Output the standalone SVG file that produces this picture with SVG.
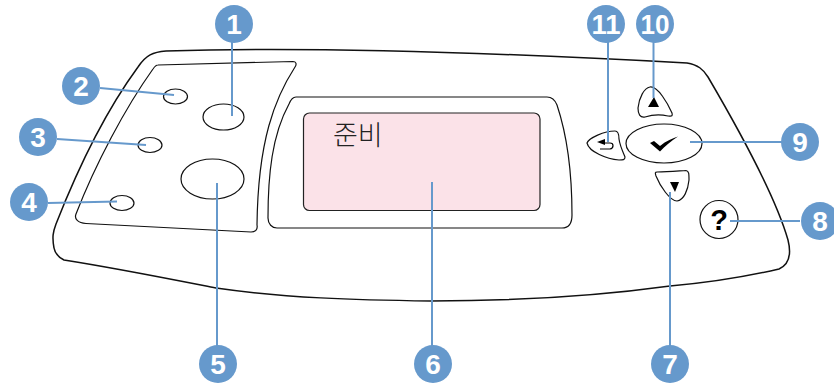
<svg xmlns="http://www.w3.org/2000/svg" width="834" height="383" viewBox="0 0 834 383">
<style>
.o{fill:none;stroke:#111;stroke-width:1.2}
.b{fill:#fff;stroke:#111;stroke-width:1.2}
.l{fill:none;stroke:#6699cc;stroke-width:2}
.c{fill:#6699cc}
.t{fill:#fff;font:bold 28px "Liberation Sans",Arial,sans-serif;text-anchor:middle}
</style>
<rect width="834" height="383" fill="#fff"/>
<g id="panel">
<path class="o" style="stroke-width:1.5" d="M54 248C52 237 53 232 56 224C78 168 105 112 138 67C146 55 153 52 166 51C290 47 450 50 687 63C698 65 703 69 708 77C742 135 776 198 788 240C791 252 790 264 779 269C740 278 705 283 670 286C590 297 510 301 431 301C355 300 285 298 216 288C165 278 115 268 64 260C58 257 55 254 54 248Z"/>
</g>
<g id="left-panel">
<path class="o" d="M158 65L293 61.500C296 61.500 297 64 295 67C275 98 258 140 257 225C258 230 255 232 251 232L86 223.500C78 223 74 219 76 214C95 165 125 108 153 69C155 66 156 65 158 65Z"/>
</g>
<g id="bezel">
<path class="o" d="M296 97H547C552 97 555 100 557 105C567 135 572 175 572 215C572 224 568 228 562 228H277C272 228 268 224 268 218C268 175 272 135 289 104C291 99 293 97 296 97Z"/>
</g>
<g id="node-6">
<rect x="303.500" y="113" width="236.500" height="97.500" rx="6" fill="#fbe2e8" stroke="#222" stroke-width="1.200"/>
<text x="333" y="145" font-family="'Noto Sans CJK KR',sans-serif" font-size="27" fill="#222" font-weight="300">준비</text>
</g>
<g id="node-2"><ellipse class="b" cx="175.500" cy="96.500" rx="12" ry="7.500"/></g>
<g id="node-3"><ellipse class="b" cx="150" cy="145" rx="12" ry="7.500"/></g>
<g id="node-4"><ellipse class="b" cx="122" cy="203" rx="12" ry="7.500"/></g>
<g id="node-1"><ellipse class="b" cx="223.500" cy="117" rx="20.500" ry="13"/></g>
<g id="node-5"><ellipse class="b" cx="212.500" cy="179" rx="31.500" ry="20"/></g>
<g id="node-9"><ellipse class="b" cx="664" cy="143.500" rx="38" ry="19.500"/>
<path d="M650 143L654 141L660 146C666 141 673 138 678 136.500C671 141 665 146 660 151.500Z" fill="#000"/></g>
<g id="node-10"><path class="b" d="M650 87C658 86 668 104 672 113C673 117 671 116 668 116C660 114 651 115 645 117C640 118 638 114 638 108C639 98 644 88 650 87Z"/>
<path d="M654 97L659 107H648Z" fill="#000"/></g>
<g id="node-11"><path class="b" d="M587 143C589 138 604 131 615 131C618 131 619 134 619 139C620 146 623 152 625 157C625 160 623 160 619 160C607 159 589 152 587 143Z"/>
<path d="M597 142L605 139V145Z" fill="#000"/><path d="M603 143H610C614 143 614 148 610 149H600" fill="none" stroke="#000" stroke-width="1.200"/></g>
<g id="node-7"><path class="b" d="M657 172C668 172 678 171 686 170.500C689 171 689 174 689 180C688 190 684 200 677 201C670 201 660 186 656 176C655 173 655 172 657 172Z"/>
<path d="M670 182H679L675 192Z" fill="#000"/></g>
<g id="node-8"><circle class="b" cx="719" cy="219.500" r="19"/>
<text x="719" y="230" text-anchor="middle" font-family="'Liberation Sans',sans-serif" font-weight="bold" font-size="29" fill="#000">?</text></g>
<g id="connectors">
<path class="l" d="M232 24V116"/>
<path class="l" d="M100 88L174 95"/>
<path class="l" d="M57 139L146 145"/>
<path class="l" d="M48 203L117 201.500"/>
<path class="l" d="M217 183V350"/>
<path class="l" d="M432 182V350"/>
<path class="l" d="M670 192V350"/>
<path class="l" d="M730 221H800"/>
<path class="l" d="M690 142H790"/>
<path class="l" d="M653.500 24V98"/>
<path class="l" d="M608 24V142"/>
</g>
<g id="badge-1"><circle class="c" cx="234" cy="24" r="19"/><text class="t" x="234" y="34">1</text></g>
<g id="badge-2"><circle class="c" cx="81" cy="86" r="19"/><text class="t" x="81" y="96">2</text></g>
<g id="badge-3"><circle class="c" cx="38" cy="137" r="19"/><text class="t" x="38" y="147">3</text></g>
<g id="badge-4"><circle class="c" cx="29" cy="202" r="19"/><text class="t" x="29" y="212">4</text></g>
<g id="badge-5"><circle class="c" cx="218" cy="364" r="19"/><text class="t" x="218" y="374">5</text></g>
<g id="badge-6"><circle class="c" cx="433" cy="364" r="19"/><text class="t" x="433" y="374">6</text></g>
<g id="badge-7"><circle class="c" cx="670" cy="364" r="19"/><text class="t" x="670" y="374">7</text></g>
<g id="badge-8"><circle class="c" cx="820" cy="221" r="19"/><text class="t" x="820" y="231">8</text></g>
<g id="badge-9"><circle class="c" cx="800" cy="142" r="19"/><text class="t" x="800" y="152">9</text></g>
<g id="badge-10"><circle class="c" cx="655" cy="24" r="19"/><text class="t" x="655" y="34" textLength="29" lengthAdjust="spacingAndGlyphs">10</text></g>
<g id="badge-11"><circle class="c" cx="606" cy="24" r="19"/><text class="t" x="606" y="34" textLength="29" lengthAdjust="spacingAndGlyphs">11</text></g>
</svg>
